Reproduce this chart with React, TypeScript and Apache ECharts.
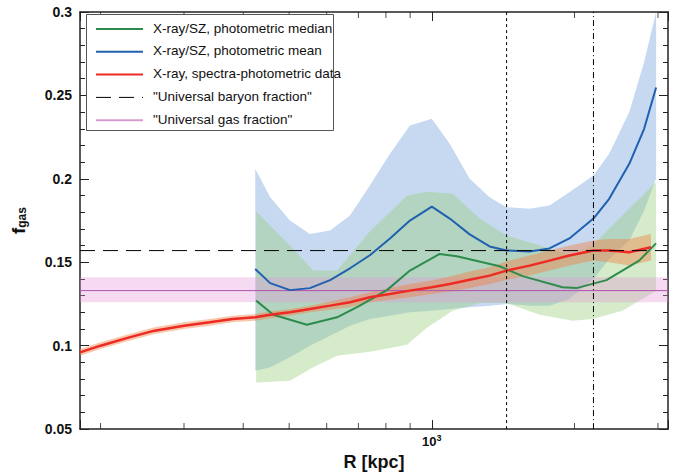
import React, { useEffect, useRef } from "react";
import * as echarts from "echarts";

// radii (kpc) shared by the X-ray/SZ mean curve and band
const radii = [424, 456, 502, 553, 610, 672, 740, 816, 899, 1000, 1091, 1202, 1324, 1438, 1608, 1771, 1951, 2193, 2367, 2610, 2805, 2973];
const meanVals = [0.146, 0.1375, 0.1333, 0.1345, 0.1393, 0.1464, 0.1542, 0.1643, 0.175, 0.1833, 0.1762, 0.1667, 0.1595, 0.1571, 0.1565, 0.1583, 0.1643, 0.1762, 0.188, 0.209, 0.23, 0.2548];
const meanHi = [0.206, 0.189, 0.175, 0.167, 0.169, 0.178, 0.196, 0.215, 0.232, 0.236, 0.221, 0.2, 0.189, 0.183, 0.182, 0.184, 0.192, 0.202, 0.215, 0.24, 0.27, 0.3];
const meanLo = [0.085, 0.087, 0.093, 0.1, 0.106, 0.112, 0.116, 0.118, 0.12, 0.121, 0.122, 0.123, 0.124, 0.125, 0.124, 0.124, 0.128, 0.14, 0.152, 0.163, 0.181, 0.2];
// median curve
const medianR = [426, 463, 545, 631, 705, 804, 899, 1039, 1129, 1390, 1554, 1887, 2019, 2336, 2738, 2973];
const medianVals = [0.127, 0.1185, 0.1125, 0.117, 0.124, 0.1333, 0.145, 0.155, 0.1536, 0.1476, 0.1417, 0.135, 0.1345, 0.1393, 0.151, 0.1613];
// median band
const bandR = [426, 502, 562, 631, 740, 886, 976, 1107, 1262, 1438, 1688, 1980, 2181, 2523, 2973];
const medianHi = [0.1804, 0.16, 0.145, 0.145, 0.1685, 0.1899, 0.1923, 0.191, 0.1762, 0.166, 0.16, 0.154, 0.16, 0.178, 0.198];
const medianLo = [0.078, 0.079, 0.087, 0.094, 0.0964, 0.1006, 0.1107, 0.121, 0.1256, 0.1256, 0.1185, 0.115, 0.116, 0.121, 0.1327];
// spectra-photometric data
const redR = [181, 200, 230, 260, 300, 340, 380, 424, 456, 502, 553, 610, 672, 740, 816, 899, 1000, 1091, 1202, 1324, 1438, 1608, 1771, 1951, 2193, 2367, 2610, 2900];
const redVals = [0.096, 0.1, 0.105, 0.109, 0.112, 0.114, 0.116, 0.117, 0.1185, 0.12, 0.122, 0.124, 0.126, 0.129, 0.131, 0.133, 0.135, 0.137, 0.1395, 0.142, 0.145, 0.148, 0.151, 0.154, 0.157, 0.157, 0.156, 0.159];
const redErr = [0.002, 0.002, 0.002, 0.002, 0.002, 0.002, 0.002, 0.002, 0.002, 0.002, 0.002, 0.0025, 0.003, 0.003, 0.0035, 0.004, 0.004, 0.0045, 0.005, 0.005, 0.0055, 0.006, 0.006, 0.006, 0.006, 0.007, 0.008, 0.008];
const xRange = [181, 3150];
const baryon = 0.157;
const gasFraction = 0.133;
const gasBand = [0.126, 0.141];
const vLines = [1438, 2193];
const minorX = [200, 300, 400, 500, 600, 700, 800, 900, 2000, 3000];

const legendItems = [
  { name: "X-ray/SZ, photometric median", color: "#2e8b4e", type: "solid" },
  { name: "X-ray/SZ, photometric mean", color: "#2060b0", type: "solid" },
  { name: "X-ray, spectra-photometric data", color: "#ee2a24", type: "solid" },
  { name: "\"Universal baryon fraction\"", color: "#000", type: "dashed" },
  { name: "\"Universal gas fraction\"", color: "#d49ccc", type: "solid" },
];

const band = (xs: number[], lo: number[], hi: number[], color: string, z: number) => ({
  type: "custom",
  z,
  silent: true,
  data: xs.map((x, i) => [x, lo[i], hi[i]]),
  renderItem: (params: any, api: any) => {
    if (params.dataIndex !== 0) return null;
    const up = xs.map((x, i) => api.coord([x, hi[i]]));
    const dn = xs.map((x, i) => api.coord([x, lo[i]])).reverse();
    return { type: "polygon", shape: { points: up.concat(dn) }, style: { fill: color } };
  },
});

const refLine = (data: number[][], color: string, type: any, z = 7) => ({
  type: "line", z, silent: true, showSymbol: false, data,
  lineStyle: { color, type, width: 1 },
});

const App: React.FC = () => {
  const ref = useRef<HTMLDivElement | null>(null);

  useEffect(() => {
    if (!ref.current) return;
    const chart = echarts.init(ref.current, undefined, { renderer: "svg" });
    const font = "Liberation Sans, Arial, sans-serif";
    const legendGraphics: any[] = [
      { type: "rect", left: 86, top: 14, shape: { width: 247, height: 116 }, style: { fill: "#fff", stroke: "#555", lineWidth: 1 }, z: 100 },
    ];
    legendItems.forEach((it, i) => {
      const y = 29 + i * 22.8;
      legendGraphics.push({
        type: "line", z: 101,
        shape: { x1: 96, y1: y, x2: 143, y2: y },
        style: { stroke: it.color, lineWidth: it.type === "dashed" ? 1 : 2, lineDash: it.type === "dashed" ? [15, 8] : null },
      });
      legendGraphics.push({
        type: "text", z: 101, left: 153, top: y - 8,
        style: { text: it.name, font: `13.5px ${font}`, fill: "#111" },
      });
    });

    const tickSeries = (y: number, offset: number) => ({
      type: "scatter", silent: true, symbol: "rect", symbolSize: [1, 6], symbolOffset: [0, offset],
      itemStyle: { color: "#222" }, data: minorX.map(x => [x, y]), z: 20, clip: false,
    });

    const axisCommon = {
      axisLine: { lineStyle: { color: "#222", width: 1.5 } },
      axisTick: { inside: true, length: 9, lineStyle: { color: "#222" } },
      splitLine: { show: false },
    };

    chart.setOption({
      animation: false,
      grid: { left: 80, right: 13, top: 12, bottom: 44 },
      graphic: legendGraphics,
      xAxis: [
        {
          type: "log", min: xRange[0], max: xRange[1], logBase: 10, ...axisCommon,
          name: "R [kpc]", nameLocation: "middle", nameGap: 20,
          nameTextStyle: { fontSize: 18, fontWeight: "bold", color: "#111", fontFamily: font },
          axisLabel: {
            formatter: (v: number) => (Math.abs(v - 1000) < 1 ? "{b|10}{s|3}" : ""),
            rich: { b: { fontSize: 13, fontWeight: "bold", fontFamily: font, color: "#111" }, s: { fontSize: 9, fontWeight: "bold", verticalAlign: "top", padding: [0, 0, 8, 0], fontFamily: font, color: "#111" } },
            margin: 4,
          },
        },
        { type: "log", min: xRange[0], max: xRange[1], position: "top", ...axisCommon, axisLabel: { show: false } },
      ],
      yAxis: [
        {
          type: "value", min: 0.05, max: 0.3, interval: 0.05, ...axisCommon,
          minorTick: { show: true, splitNumber: 5, length: 5, lineStyle: { color: "#222" } },
          axisLabel: { color: "#111", fontWeight: "bold", fontSize: 14, fontFamily: font, formatter: (v: number) => String(+v.toFixed(2)) },
          name: "{f|f}{g|gas}", nameLocation: "middle", nameGap: 52, nameRotate: 90,
          nameTextStyle: { rich: { f: { fontSize: 19, fontWeight: "bold", fontFamily: font, color: "#111" }, g: { fontSize: 12, fontWeight: "bold", fontFamily: font, color: "#111", verticalAlign: "bottom", padding: [8, 0, 0, 0] } } },
        },
        {
          type: "value", min: 0.05, max: 0.3, interval: 0.05, position: "right", ...axisCommon,
          minorTick: { show: true, splitNumber: 5, length: 5, lineStyle: { color: "#222" } },
          axisLabel: { show: false },
        },
      ],
      series: [
        band(radii, meanLo, meanHi, "rgba(120,165,220,0.42)", 1),
        band(bandR, medianLo, medianHi, "rgba(150,205,120,0.4)", 2),
        band(xRange, [gasBand[0], gasBand[0]], [gasBand[1], gasBand[1]], "rgba(225,150,215,0.35)", 3),
        band(redR, redR.map((_, i) => redVals[i] - redErr[i]), redR.map((_, i) => redVals[i] + redErr[i]), "rgba(240,130,70,0.45)", 4),
        refLine(xRange.map(x => [x, gasFraction]), "#b050b0", "solid", 4),
        {
          type: "line", z: 5, showSymbol: false, data: radii.map((x, i) => [x, meanVals[i]]),
          lineStyle: { color: "#2060b0", width: 2 },
        },
        {
          type: "line", z: 5, showSymbol: false, data: medianR.map((x, i) => [x, medianVals[i]]),
          lineStyle: { color: "#2e8b4e", width: 2 },
        },
        {
          type: "line", z: 6, showSymbol: false, data: redR.map((x, i) => [x, redVals[i]]),
          lineStyle: { color: "#ee2a24", width: 2.5 },
        },
        refLine(xRange.map(x => [x, baryon]), "#000", [15, 8]),
        refLine([[vLines[0], 0.05], [vLines[0], 0.3]], "#000", [3, 3]),
        refLine([[vLines[1], 0.05], [vLines[1], 0.3]], "#000", [6, 3, 1, 3]),
        tickSeries(0.05, -3),
        tickSeries(0.3, 3),
      ],
    });
    return () => chart.dispose();
  }, []);

  return <div ref={ref} style={{ position: "absolute", left: 0, top: 0, width: 681, height: 476 }} />;
};

export default App;
